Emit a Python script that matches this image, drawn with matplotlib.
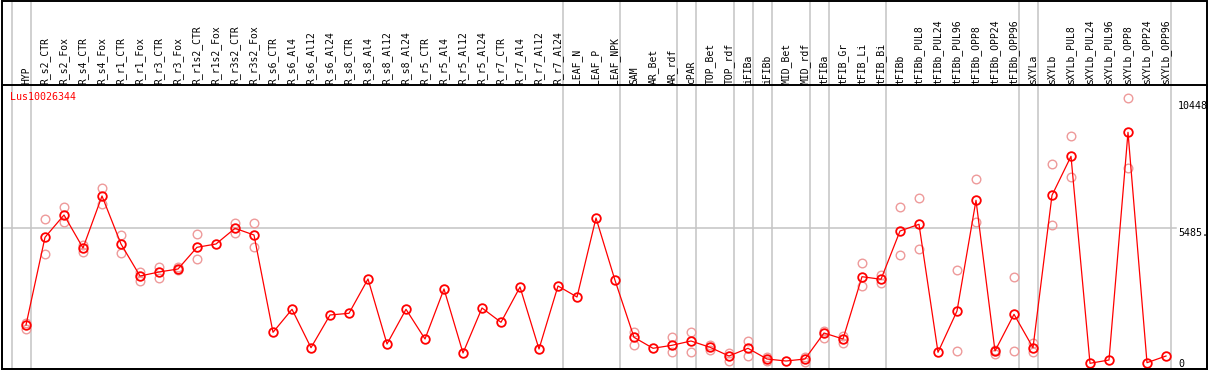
import numpy as np
import matplotlib
matplotlib.use("Agg")
import matplotlib.pyplot as plt
from matplotlib.transforms import blended_transform_factory
from matplotlib.patches import Rectangle

gene = "Lus10026344"
categories = ["HYP", "R_s2_CTR", "R_s2_Fox", "R_s4_CTR", "R_s4_Fox", "R_r1_CTR", "R_r1_Fox",
              "R_r3_CTR", "R_r3_Fox", "R_r1s2_CTR", "R_r1s2_Fox", "R_r3s2_CTR", "R_r3s2_Fox",
              "R_s6_CTR", "R_s6_Al4", "R_s6_Al12", "R_s6_Al24", "R_s8_CTR", "R_s8_Al4", "R_s8_Al12",
              "R_s8_Al24", "R_r5_CTR", "R_r5_Al4", "R_r5_Al12", "R_r5_Al24", "R_r7_CTR", "R_r7_Al4",
              "R_r7_Al12", "R_r7_Al24", "LEAF_N", "LEAF_P", "LEAF_NPK", "SAM", "AR_Bet", "AR_rdf",
              "cPAR", "TOP_Bet", "TOP_rdf", "iFIBa", "iFIBb", "MID_Bet", "MID_rdf", "tFIBa",
              "tFIB_Gr", "tFIB_Li", "tFIB_Bi", "tFIBb", "tFIBb_PUL8", "tFIBb_PUL24", "tFIBb_PUL96",
              "tFIBb_OPP8", "tFIBb_OPP24", "tFIBb_OPP96", "sXYLa", "sXYLb", "sXYLb_PUL8",
              "sXYLb_PUL24", "sXYLb_PUL96", "sXYLb_OPP8", "sXYLb_OPP24", "sXYLb_OPP96"]

mean_values = [1576, 5121, 6023, 4689, 6791, 4850, 3557, 3719, 3840, 4717, 4850, 5485, 5214,
               1281, 2211, 659, 1981, 2049, 3436, 808, 2211, 1011, 3032, 445, 2264, 1686, 3112,
               606, 3153, 2708, 5901, 3383, 1079, 635, 756, 930, 675, 323, 635, 202, 121, 202,
               1253, 1011, 3529, 3424, 5376, 5647, 473, 2142, 6617, 525, 2009, 659, 6819, 8395,
               28, 162, 9365, 53, 323]

nan = float("nan")
rep_a = [1669, 5849, 6358, 4810, 7114, 5214, 3731, 3933, 3909, 5255, nan, 5687, 5687,
         nan, nan, nan, nan, nan, nan, nan, nan, nan, nan, nan, nan, nan, nan, nan, nan,
         nan, nan, nan, 1306, nan, 1079, 1281, 768, 457, 942, 295, nan, 271, 1346, 1132,
         4070, 3597, 6358, 6698, nan, 3800, 7478, 566, 3504, 837, 8072, 9216, nan, nan,
         10740, nan, nan]
rep_b = [1403, 4446, 5728, 4539, 6455, 4475, 3355, 3464, 3800, 4232, nan, 5307, 4717,
         nan, nan, nan, nan, nan, nan, nan, nan, nan, nan, nan, nan, nan, nan, nan, nan,
         nan, nan, nan, 756, nan, 485, 497, 578, 121, 335, 121, nan, 93, 1063, 837,
         3153, 3262, 4406, 4636, nan, 525, 5752, 404, 525, 497, 5606, 7546, nan, nan,
         7935, nan, nan]

group_ends = [-1, 0, 28, 31, 34, 35, 37, 38, 39, 41, 42, 45, 52, 53, 60]
scale_labels = ["10448", "5485.", "0"]
scale_values = [10448, 5485, 0]

W, H = 1209, 370
fig = plt.figure(figsize=(W / 100, H / 100), dpi=100)
fig.patch.set_facecolor("white")

# axes: px left 1.5 .. right 1207, top 85 .. bottom 369
ax_l, ax_r, ax_t, ax_b = 1.5, 1207.0, 85.0, 369.0
ax = fig.add_axes([ax_l / W, 1 - ax_b / H, (ax_r - ax_l) / W, (ax_b - ax_t) / H])
x0px, dx = 26.0, 19.0
ax.set_xlim((ax_l - x0px) / dx, (ax_r - x0px) / dx)
k = 0.02474
y0px = 364.0
ax.set_ylim((y0px - ax_b) / k, (y0px - ax_t) / k)
ax.set_xticks([])
ax.set_yticks([])
for s in ax.spines.values():
    s.set_linewidth(1.4)
    s.set_color("black")

x = np.arange(len(categories))
ah = ax_b - ax_t
grid_c = "#c4c4c4"
for g in group_ends:
    ax.axvline(g + 4.5 / dx, ymin=0, ymax=1 + (ax_t - 0) / ah, color=grid_c, lw=1.1,
               clip_on=False, zorder=0)
ax.axhline(5485, xmin=0, xmax=(1176 - ax_l) / (ax_r - ax_l), color=grid_c, lw=1.1, zorder=0)

rep_c = "#ee9a9a"
ax.plot(x, rep_a, ls="none", marker="o", ms=6.2, mfc="none", mec=rep_c, mew=1.0, zorder=2)
ax.plot(x, rep_b, ls="none", marker="o", ms=6.2, mfc="none", mec=rep_c, mew=1.0, zorder=2)
ax.plot(x, mean_values, color="#ff0000", lw=0.9, marker="o", ms=6.2, mfc="none",
        mec="#ff0000", mew=1.3, zorder=3)

mono = "DejaVu Sans Mono"
trans = blended_transform_factory(ax.transData, ax.transAxes)
for i, lab in enumerate(categories):
    ax.text(i, 1 + 1.5 / ah, lab, rotation=90, ha="center", va="bottom", transform=trans,
            fontsize=7, family=mono, color="black", clip_on=False)

ax.text((10 - ax_l) / (ax_r - ax_l), 1 - (91.5 - ax_t) / ah, gene, transform=ax.transAxes,
        ha="left", va="top", fontsize=7.2, family=mono, color="#ff0000")

trans_r = blended_transform_factory(ax.transAxes, ax.transData)
xr = (1178 - ax_l) / (ax_r - ax_l)
for lab, v in zip(scale_labels, scale_values):
    va = "top" if lab == "5485." else "center"
    ax.text(xr, v, lab, transform=trans_r, ha="left", va=va, fontsize=7.2, family=mono,
            color="black")

# outer border for label area
fig.patches.append(Rectangle((ax_l / W, 1 - ax_b / H), (ax_r - ax_l) / W, (ax_b - 0.7) / H,
                             transform=fig.transFigure, fill=False, ec="black", lw=1.4))

fig.savefig("out.png", dpi=100, facecolor="white")
